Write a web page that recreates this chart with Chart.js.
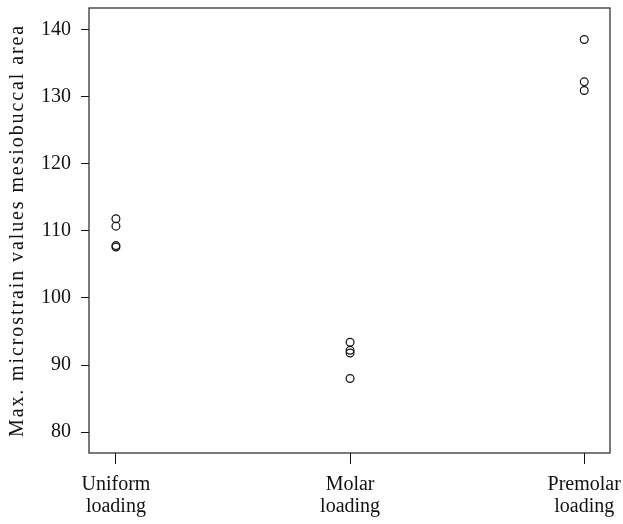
<!DOCTYPE html>
<html>
<head>
<meta charset="utf-8">
<script src="https://cdn.jsdelivr.net/npm/chart.js@4.4.0/dist/chart.umd.min.js"></script>
<style>
    html, body { margin: 0; padding: 0; background: #fff; }
    #wrap { width: 623px; height: 524px; }
</style>
</head>
<body>
<div id="wrap"><canvas id="chartStrain"></canvas></div>
<script>
// categories on the x axis (positions 1, 2, 3)
var groups = [["Uniform", "loading"], ["Molar", "loading"], ["Premolar", "loading"]];
var uniformValues = [111.8, 110.7, 107.8, 107.6];
var molarValues = [93.4, 92.2, 91.8, 88.0];
var premolarValues = [138.5, 132.2, 130.9];
var yTicks = [80, 90, 100, 110, 120, 130, 140];

var allValues = [uniformValues, molarValues, premolarValues];
var points = [];
allValues.forEach(function (vals, i) {
    vals.forEach(function (v) {
        points.push({ x: i + 1, y: v });
    });
});

var fontFace = "'Liberation Serif', 'Times New Roman', serif";

// draw the full box round the plot area
var boxPlugin = {
    id: "boxPlugin",
    afterDraw: function (chart) {
        var a = chart.chartArea;
        var c = chart.ctx;
        c.save();
        c.strokeStyle = "#222";
        c.lineWidth = 1.2;
        c.strokeRect(a.left, a.top, a.right - a.left, a.bottom - a.top);
        c.restore();
    },
};

// the axis title in the original is set wider, so space its letters a bit
var titleSpacing = {
    id: "titleSpacing",
    afterLayout: function (chart) {
        var sc = chart.scales.y;
        if (sc && !sc._spaced) {
            var orig = sc.drawTitle;
            sc.drawTitle = function () {
                var c = this.ctx;
                var old = c.letterSpacing;
                c.letterSpacing = "1.9px";
                orig.apply(this, arguments);
                c.letterSpacing = old || "0px";
            };
            sc._spaced = true;
        }
    },
};

new Chart(document.getElementById("chartStrain"), {
    type: "scatter",
    data: {
        datasets: [
            {
                data: points,
                pointStyle: "circle",
                pointRadius: 3.9,
                pointBorderWidth: 1.2,
                borderColor: "#111",
                backgroundColor: "rgba(0,0,0,0)",
            },
        ],
    },
    options: {
        responsive: true,
        maintainAspectRatio: false,
        animation: false,
        layout: { padding: { top: 8, right: 13, left: 0, bottom: 0 } },
        plugins: {
            legend: { display: false },
            tooltip: { enabled: false },
        },
        scales: {
            x: {
                type: "linear",
                min: 0.885,
                max: 3.11,
                afterBuildTicks: function (scale) {
                    scale.ticks = [{ value: 1 }, { value: 2 }, { value: 3 }];
                },
                afterFit: function (scale) {
                    scale.height = 71;
                    scale.paddingLeft = 0;
                    scale.paddingRight = 0;
                },
                ticks: {
                    autoSkip: false,
                    maxRotation: 0,
                    padding: 10,
                    color: "#111",
                    font: { family: fontFace, size: 20, lineHeight: 1.1 },
                    callback: function (value) {
                        return groups[value - 1];
                    },
                },
                grid: {
                    drawOnChartArea: false,
                    drawTicks: true,
                    tickLength: 11,
                    color: "#111",
                },
                border: { display: false },
            },
            y: {
                min: 76.9,
                max: 143.2,
                afterBuildTicks: function (scale) {
                    scale.ticks = yTicks.map(function (v) {
                        return { value: v };
                    });
                },
                afterFit: function (scale) {
                    scale.width = 89;
                    scale.paddingTop = 0;
                    scale.paddingBottom = 0;
                },
                ticks: {
                    padding: 10,
                    color: "#111",
                    font: { family: fontFace, size: 20 },
                },
                grid: {
                    drawOnChartArea: false,
                    drawTicks: true,
                    tickLength: 8,
                    color: "#111",
                },
                border: { display: false },
                title: {
                    display: true,
                    text: "Max. microstrain values mesiobuccal area",
                    color: "#111",
                    font: { family: fontFace, size: 20 },
                    padding: { top: 6, bottom: 0 },
                },
            },
        },
    },
    plugins: [boxPlugin, titleSpacing],
});
</script>
</body>
</html>
